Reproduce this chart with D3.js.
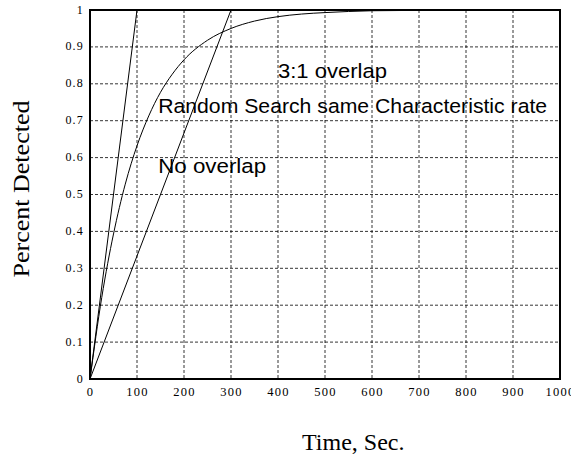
<!DOCTYPE html>
<html>
<head>
<meta charset="utf-8">
<script src="https://cdn.jsdelivr.net/npm/d3@7"></script>
<style>
  body { margin: 0; background: #fff; }
  svg { display: block; }
</style>
</head>
<body>
<div id="chart"></div>
<script>
// values
var xTicks = [0, 100, 200, 300, 400, 500, 600, 700, 800, 900, 1000];
var yTicks = [0, 0.1, 0.2, 0.3, 0.4, 0.5, 0.6, 0.7, 0.8, 0.9, 1];
var yTickLabels = ["0", "0.1", "0.2", "0.3", "0.4", "0.5", "0.6", "0.7", "0.8", "0.9", "1"];

var overlapTime = [0, 100];          // 3:1 overlap line
var overlapPct = [0, 1];
var noOverlapTime = [0, 300];        // no overlap line
var noOverlapPct = [0, 1];
var randomTime = [0, 25, 50, 75, 100, 125, 150, 175, 200, 250, 300, 350, 400, 450, 500, 550, 600, 650, 700];
var randomPct = [0, 0.221, 0.393, 0.528, 0.632, 0.713, 0.777, 0.826, 0.865, 0.918, 0.950, 0.970, 0.982, 0.989, 0.993, 0.996, 0.998, 0.9985, 0.999];

var labelText = ["3:1 overlap", "Random Search same Characteristic rate", "No overlap"];

(function(){
  var W = 571, H = 457;
  var mLeft = 90, mRight = 560, mTop = 10, mBottom = 379;

  var labelAt = [[400, 0.816], [145, 0.721], [145, 0.558]];
  var labelLen = [109, 389, 108];

  var svg = d3.select("#chart").append("svg")
    .attr("width", W)
    .attr("height", H);

  var x = d3.scaleLinear().domain([0, 1000]).range([mLeft, mRight]);
  var y = d3.scaleLinear().domain([0, 1]).range([mBottom, mTop]);

  // grid
  var grid = svg.append("g").attr("stroke", "#000").attr("stroke-width", 0.8).attr("stroke-dasharray", "3,2");
  grid.selectAll("line.v")
    .data(xTicks.slice(1, -1))
    .enter().append("line")
    .attr("class", "v")
    .attr("x1", function(d) { return x(d); })
    .attr("x2", function(d) { return x(d); })
    .attr("y1", mTop).attr("y2", mBottom);
  grid.selectAll("line.h")
    .data(yTicks.slice(1, -1))
    .enter().append("line")
    .attr("class", "h")
    .attr("y1", function(d) { return y(d); })
    .attr("y2", function(d) { return y(d); })
    .attr("x1", mLeft).attr("x2", mRight);

  // axes (labels only, frame drawn separately)
  var xAxis = svg.append("g")
    .attr("transform", "translate(0," + mBottom + ")")
    .call(d3.axisBottom(x).tickValues(xTicks).tickSize(0).tickPadding(8).tickFormat(d3.format("d")));
  var yAxis = svg.append("g")
    .attr("transform", "translate(" + mLeft + ",0)")
    .call(d3.axisLeft(y).tickValues(yTicks).tickSize(0).tickPadding(6)
      .tickFormat(function(d, i) { return yTickLabels[i]; }));
  [xAxis, yAxis].forEach(function(a) {
    a.select(".domain").remove();
    a.selectAll("text")
      .attr("fill", "#000")
      .style("font-family", "'Liberation Serif', 'Times New Roman', serif")
      .style("font-size", "12px")
      .style("letter-spacing", "1.2px");
  });
  xAxis.selectAll("text").style("font-size", "12.5px");
  yAxis.selectAll("text").attr("dy", "0.25em");

  // lines
  var line = d3.line()
    .x(function(d) { return x(d[0]); })
    .y(function(d) { return y(d[1]); });

  svg.append("path")
    .attr("d", line(d3.zip(overlapTime, overlapPct)))
    .attr("fill", "none").attr("stroke", "#000").attr("stroke-width", 1);
  svg.append("path")
    .attr("d", line(d3.zip(noOverlapTime, noOverlapPct)))
    .attr("fill", "none").attr("stroke", "#000").attr("stroke-width", 1);
  svg.append("path")
    .attr("d", line.curve(d3.curveMonotoneX)(d3.zip(randomTime, randomPct)))
    .attr("fill", "none").attr("stroke", "#000").attr("stroke-width", 1);

  // frame
  svg.append("rect")
    .attr("x", mLeft).attr("y", mTop)
    .attr("width", mRight - mLeft).attr("height", mBottom - mTop)
    .attr("fill", "none").attr("stroke", "#000").attr("stroke-width", 2);

  // annotations
  svg.selectAll("text.note")
    .data(labelText)
    .enter().append("text")
    .attr("class", "note")
    .attr("x", function(d, i) { return x(labelAt[i][0]); })
    .attr("y", function(d, i) { return y(labelAt[i][1]); })
    .attr("textLength", function(d, i) { return labelLen[i]; })
    .attr("lengthAdjust", "spacingAndGlyphs")
    .style("font-family", "'Liberation Sans', Arial, sans-serif")
    .style("font-size", "20.5px")
    .text(function(d) { return d; });

  // axis titles
  svg.append("text")
    .attr("x", 302).attr("y", 450)
    .style("font-family", "'Liberation Serif', 'Times New Roman', serif")
    .style("font-size", "24px")
    .text("Time, Sec.");

  svg.append("text")
    .attr("transform", "translate(29,189) rotate(-90)")
    .attr("text-anchor", "middle")
    .attr("textLength", 177)
    .attr("lengthAdjust", "spacingAndGlyphs")
    .style("font-family", "'Liberation Serif', 'Times New Roman', serif")
    .style("font-size", "24px")
    .text("Percent Detected");
})();
</script>
</body>
</html>
